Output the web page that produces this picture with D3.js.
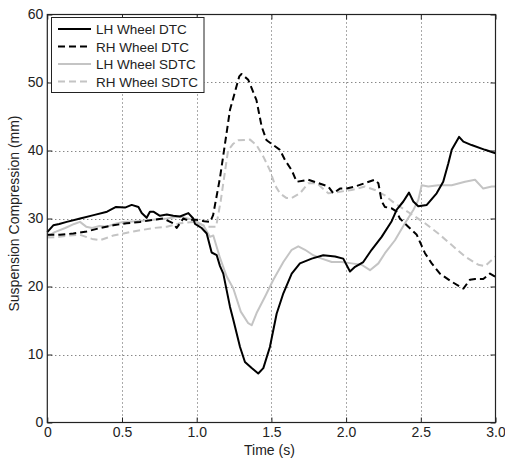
<!DOCTYPE html>
<html>
<head>
<meta charset="utf-8">
<script src="https://cdn.jsdelivr.net/npm/d3@7/dist/d3.min.js"></script>
<style>
  html, body { margin: 0; padding: 0; background: #fff; }
  svg { display: block; font-family: "Liberation Sans", Arial, sans-serif; }
</style>
</head>
<body>
<svg id="chart" width="505" height="462"></svg>
<script>
// Suspension compression vs time, [time (s), compression (mm)]
const lhDTC = [[0,28.0],[0.04,29.0],[0.08,29.2],[0.13,29.5],[0.22,30.0],[0.31,30.5],[0.40,31.0],[0.46,31.7],[0.52,31.6],[0.565,32.0],[0.61,31.7],[0.632,30.8],[0.665,30.1],[0.687,31.0],[0.71,31.0],[0.754,30.4],[0.80,30.6],[0.843,30.4],[0.888,30.3],[0.944,30.8],[0.977,30.0],[0.989,29.2],[1.033,28.6],[1.067,27.8],[1.10,25.0],[1.134,24.6],[1.156,23.0],[1.178,21.9],[1.20,19.5],[1.223,17.0],[1.245,15.1],[1.29,11.1],[1.323,8.9],[1.368,8.0],[1.412,7.2],[1.446,8.0],[1.49,11.1],[1.535,16.0],[1.58,19.0],[1.59,19.5],[1.636,21.9],[1.691,23.4],[1.77,24.1],[1.847,24.6],[1.926,24.4],[1.981,24.1],[2.026,22.2],[2.06,22.9],[2.115,23.6],[2.171,25.4],[2.238,27.3],[2.305,29.6],[2.339,31.3],[2.383,32.5],[2.421,33.8],[2.45,32.5],[2.483,31.8],[2.54,32.0],[2.606,33.7],[2.65,35.4],[2.684,38.1],[2.707,40.1],[2.756,42.0],[2.785,41.3],[2.84,40.8],[2.93,40.1],[3.0,39.6]];

const rhDTC = [[0,27.6],[0.085,27.6],[0.174,27.8],[0.264,28.1],[0.353,28.6],[0.442,29.0],[0.531,29.3],[0.62,29.5],[0.71,29.8],[0.776,30.0],[0.843,29.3],[0.866,28.6],[0.91,30.0],[0.933,29.8],[0.977,29.8],[1.0,29.8],[1.05,29.6],[1.09,29.5],[1.11,30.5],[1.156,36.0],[1.223,46.0],[1.285,50.9],[1.30,51.25],[1.345,50.4],[1.40,47.4],[1.435,43.5],[1.468,41.5],[1.557,40.1],[1.591,38.6],[1.636,37.1],[1.669,35.4],[1.747,35.7],[1.814,35.2],[1.881,34.7],[1.914,33.7],[1.959,34.4],[2.004,34.4],[2.06,34.7],[2.126,35.2],[2.19,35.7],[2.216,35.2],[2.238,32.5],[2.26,31.7],[2.305,31.5],[2.339,31.0],[2.36,30.0],[2.416,28.8],[2.473,27.6],[2.528,24.9],[2.573,23.4],[2.628,21.9],[2.707,20.7],[2.785,19.7],[2.829,21.0],[2.863,21.1],[2.918,21.1],[2.963,21.9],[3.0,21.4]];

const lhSDTC = [[0,27.3],[0.05,28.0],[0.12,28.6],[0.18,29.2],[0.219,29.5],[0.26,28.8],[0.30,28.6],[0.35,28.9],[0.40,28.8],[0.45,29.2],[0.509,29.5],[0.60,29.6],[0.71,29.8],[0.80,30.0],[0.888,30.3],[0.977,29.8],[1.044,29.0],[1.089,27.3],[1.111,27.5],[1.156,24.2],[1.20,21.5],[1.245,19.7],[1.295,16.3],[1.345,14.6],[1.368,14.3],[1.401,16.1],[1.457,18.5],[1.513,21.0],[1.58,23.6],[1.636,25.4],[1.68,25.9],[1.725,25.4],[1.78,24.6],[1.837,24.1],[1.904,23.6],[1.97,23.6],[2.037,23.4],[2.104,23.2],[2.16,22.4],[2.216,23.4],[2.26,24.9],[2.327,26.8],[2.394,29.3],[2.45,31.25],[2.483,32.7],[2.506,34.9],[2.55,34.7],[2.617,34.9],[2.707,34.9],[2.796,35.4],[2.863,35.7],[2.918,34.4],[2.975,34.7],[3.0,34.7]];

const rhSDTC = [[0,27.2],[0.08,27.3],[0.15,27.5],[0.219,27.6],[0.30,27.0],[0.353,26.8],[0.442,27.5],[0.576,28.1],[0.71,28.6],[0.80,28.8],[0.888,29.3],[0.977,29.5],[1.067,28.8],[1.13,28.8],[1.16,32.5],[1.19,37.0],[1.21,40.0],[1.245,41.0],[1.278,41.5],[1.357,41.6],[1.40,40.8],[1.446,39.1],[1.49,37.1],[1.524,34.9],[1.557,33.7],[1.602,33.0],[1.636,33.0],[1.691,33.7],[1.747,35.2],[1.803,35.2],[1.881,33.7],[1.948,33.9],[2.037,34.2],[2.126,34.7],[2.193,34.2],[2.26,33.4],[2.327,32.2],[2.394,31.25],[2.46,30.3],[2.528,29.3],[2.617,27.8],[2.707,26.1],[2.796,24.4],[2.885,23.2],[2.93,23.0],[3.0,24.4]];

const seriesNames = ["LH Wheel DTC", "RH Wheel DTC", "LH Wheel SDTC", "RH Wheel SDTC"];
const xTicks = [0, 0.5, 1.0, 1.5, 2.0, 2.5, 3.0];
const xTickLabels = ["0", "0.5", "1.0", "1.5", "2.0", "2.5", "3.0"];
const yTicks = [0, 10, 20, 30, 40, 50, 60];

const series = [
  { name: seriesNames[0], data: lhDTC,  color: "#000000", dash: null },
  { name: seriesNames[1], data: rhDTC,  color: "#000000", dash: "7,4" },
  { name: seriesNames[2], data: lhSDTC, color: "#c4c4c4", dash: null },
  { name: seriesNames[3], data: rhSDTC, color: "#c4c4c4", dash: "7,4" }
];

const svg = d3.select("#chart");
const plotLeft = 47.3, plotRight = 495.5, plotTop = 14.5, plotBottom = 422.5;

const x = d3.scaleLinear().domain([0, 3]).range([plotLeft, plotRight]);
const y = d3.scaleLinear().domain([0, 60]).range([plotBottom, plotTop]);

// dotted grid
const grid = svg.append("g").attr("stroke", "#555").attr("stroke-width", 1).attr("stroke-dasharray", "1,3");
grid.selectAll("line.v").data(xTicks.slice(1, -1)).join("line")
  .attr("x1", d => Math.round(x(d)) + 0.5).attr("x2", d => Math.round(x(d)) + 0.5)
  .attr("y1", plotTop).attr("y2", plotBottom);
grid.selectAll("line.h").data(yTicks.slice(1, -1)).join("line")
  .attr("y1", d => Math.round(y(d)) + 0.5).attr("y2", d => Math.round(y(d)) + 0.5)
  .attr("x1", plotLeft).attr("x2", plotRight);

// data lines
const line = d3.line().x(d => x(d[0])).y(d => y(d[1]));
svg.append("g").selectAll("path").data(series.slice().reverse()).join("path")
  .attr("d", d => line(d.data))
  .attr("fill", "none")
  .attr("stroke", d => d.color)
  .attr("stroke-width", 2)
  .attr("stroke-linejoin", "round")
  .attr("stroke-dasharray", d => d.dash);

// axes: box with inward ticks on all four sides
const axisStyle = g => {
  g.select(".domain").remove();
  g.selectAll(".tick line").attr("stroke", "#222");
  g.selectAll(".tick text").attr("fill", "#222").attr("font-size", 14)
    .attr("font-family", "Liberation Sans, Arial, sans-serif");
};
svg.append("g").attr("transform", `translate(0,${plotBottom})`)
  .call(d3.axisBottom(x).tickValues(xTicks).tickFormat((d, i) => xTickLabels[i]).tickSizeInner(-5).tickSizeOuter(0).tickPadding(5))
  .call(axisStyle);
svg.append("g").attr("transform", `translate(0,${plotTop})`)
  .call(d3.axisTop(x).tickValues(xTicks).tickFormat("").tickSizeInner(-5).tickSizeOuter(0))
  .call(axisStyle);
svg.append("g").attr("transform", `translate(${plotLeft},0)`)
  .call(d3.axisLeft(y).tickValues(yTicks).tickFormat(d3.format("d")).tickSizeInner(-5).tickSizeOuter(0).tickPadding(4))
  .call(axisStyle);
svg.append("g").attr("transform", `translate(${plotRight},0)`)
  .call(d3.axisRight(y).tickValues(yTicks).tickFormat("").tickSizeInner(-5).tickSizeOuter(0))
  .call(axisStyle);

svg.append("rect")
  .attr("x", plotLeft).attr("y", plotTop).attr("width", plotRight - plotLeft).attr("height", plotBottom - plotTop)
  .attr("fill", "none").attr("stroke", "#222").attr("stroke-width", 1.2);

// axis titles
svg.append("text").attr("x", (plotLeft + plotRight) / 2 - 2).attr("y", 455)
  .attr("text-anchor", "middle").attr("font-size", 14).attr("fill", "#222").text("Time (s)");
svg.append("text").attr("transform", `translate(19,${(plotTop + plotBottom) / 2 - 5}) rotate(-90)`)
  .attr("text-anchor", "middle").attr("font-size", 14).attr("fill", "#222").text("Suspension Compression (mm)");

// legend
const lg = svg.append("g");
lg.append("rect").attr("x", 51.5).attr("y", 17.5).attr("width", 152.5).attr("height", 75)
  .attr("fill", "#fff").attr("stroke", "#222").attr("stroke-width", 1);
const rowY = [29, 46.5, 64, 81.5];
const items = lg.selectAll("g.item").data(series).join("g");
items.append("line")
  .attr("x1", 58).attr("x2", 91)
  .attr("y1", (d, i) => rowY[i]).attr("y2", (d, i) => rowY[i])
  .attr("stroke", d => d.color).attr("stroke-width", 2)
  .attr("stroke-dasharray", d => d.dash);
items.append("text")
  .attr("x", 96).attr("y", (d, i) => rowY[i] + 5)
  .attr("font-size", 13.5).attr("fill", "#222").text(d => d.name);
</script>
</body>
</html>
